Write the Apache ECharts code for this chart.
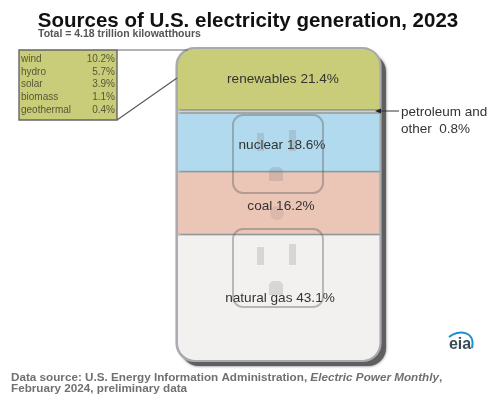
<!DOCTYPE html>
<html><head><meta charset="utf-8">
<style>html,body{margin:0;padding:0;background:#fff}#c{width:500px;height:394px;filter:blur(0.45px)}</style>
<script src="https://cdn.jsdelivr.net/npm/echarts@6/dist/echarts.min.js"></script>
</head><body><div id="c"></div>
<script>
// Stack order, bottom to top
const sources = ['natural gas', 'coal', 'nuclear', 'petroleum', 'renewables'];
// Percentages printed on the picture
const shares = [43.1, 16.2, 18.6, 0.8, 21.4];
// Band sizes as drawn in the picture (the artwork is not strictly to scale)
const bandSizes = [40.4, 20.1, 18.8, 0.9, 19.8];
const colors = ['#f2f1f0', '#ebc5b6', '#b1daee', '#d4d4d4', '#c9cd79'];

const insetNames = ['wind', 'hydro', 'solar', 'biomass', 'geothermal'];
const insetValues = ['10.2%', '5.7%', '3.9%', '1.1%', '0.4%'];

const titleText = 'Sources of U.S. electricity generation, 2023';
const subtitleText = 'Total = 4.18 trillion kilowatthours';

const chart = echarts.init(document.getElementById('c'), null, {renderer: 'canvas'});
const FF = '"Liberation Sans", Arial, sans-serif';
const labelOffsets = [[1, 0], [2, 3], [3, 3], [0, 0], [4, 0]];

const series = sources.map((s, i) => ({
  name: s, type: 'bar', stack: 'all', barWidth: '100%', z: 2, silent: true,
  data: [bandSizes[i]],
  itemStyle: {
    color: colors[i], borderColor: i === 3 ? '#a8a8a8' : '#8f9ea3', borderWidth: 0.8,
    borderRadius: i === 0 ? [0, 0, 18, 18] : i === 4 ? [18, 18, 0, 0] : 0
  },
  label: {
    show: i !== 3, position: 'inside', offset: labelOffsets[i],
    formatter: s + ' ' + shares[i].toFixed(1) + '%',
    fontFamily: FF, fontSize: 13.6, color: '#333'
  }
}));

function socket(y) {
  const st = {fill: 'rgba(120,120,120,0.22)'};
  return [
    {type: 'rect', z: 3, silent: true, shape: {x: 233, y: y, width: 90, height: 78, r: 10},
      style: {fill: 'none', stroke: 'rgba(90,90,90,0.38)', lineWidth: 2}},
    {type: 'rect', z: 3, silent: true, shape: {x: 257, y: y + 18, width: 7, height: 18}, style: st},
    {type: 'rect', z: 3, silent: true, shape: {x: 289, y: y + 15, width: 7, height: 21}, style: st},
    {type: 'rect', z: 3, silent: true, shape: {x: 269, y: y + 52, width: 14, height: 14, r: [5, 5, 0, 0]}, style: st}
  ];
}

const graphics = [
  // plug body shadow
  {type: 'rect', z: 1, silent: true, shape: {x: 181, y: 54, width: 205, height: 312, r: 18},
    style: {fill: '#5f5f5f', shadowBlur: 3, shadowColor: 'rgba(0,0,0,0.6)'}},
  ...socket(115), ...socket(229),
  {type: 'circle', z: 3, silent: true, shape: {cx: 277, cy: 213, r: 7}, style: {fill: 'rgba(120,120,120,0.15)'}},
  // plug body outline
  {type: 'rect', z: 4, silent: true, shape: {x: 176.5, y: 48, width: 204, height: 313, r: 18},
    style: {fill: 'none', stroke: '#a9a9b0', lineWidth: 2.2}},
  // inset
  {type: 'rect', z: 5, silent: true, shape: {x: 19, y: 50, width: 98, height: 70},
    style: {fill: '#c9cd79', stroke: '#666', lineWidth: 1.4}},
  {type: 'line', z: 5, silent: true, shape: {x1: 117, y1: 50, x2: 188, y2: 50}, style: {stroke: '#666', lineWidth: 1.2}},
  {type: 'line', z: 5, silent: true, shape: {x1: 117, y1: 120, x2: 177, y2: 78}, style: {stroke: '#555', lineWidth: 1.1}},
  ...insetNames.flatMap((n, i) => [
    {type: 'text', z: 6, silent: true, x: 21, y: 59 + i * 12.8,
      style: {text: n, fontFamily: FF, fontSize: 10, fill: '#55583a', textVerticalAlign: 'middle'}},
    {type: 'text', z: 6, silent: true, x: 115, y: 59 + i * 12.8,
      style: {text: insetValues[i], fontFamily: FF, fontSize: 10, fill: '#55583a', textAlign: 'right', textVerticalAlign: 'middle'}}
  ]),
  // petroleum callout
  {type: 'line', z: 5, silent: true, shape: {x1: 399, y1: 111, x2: 378, y2: 111}, style: {stroke: '#333', lineWidth: 1}},
  {type: 'polygon', z: 5, silent: true, shape: {points: [[375, 111], [381, 108.5], [381, 113.5]]}, style: {fill: '#222'}},
  {type: 'text', z: 6, silent: true, x: 401, y: 112,
    style: {text: 'petroleum and', fontFamily: FF, fontSize: 13.5, fill: '#333', textVerticalAlign: 'middle'}},
  {type: 'text', z: 6, silent: true, x: 401, y: 129,
    style: {text: 'other  ' + shares[3].toFixed(1) + '%', fontFamily: FF, fontSize: 13.5, fill: '#333', textVerticalAlign: 'middle'}},
  // source note
  {type: 'text', z: 6, silent: true, x: 11, y: 378,
    style: {
      text: '{b|Data source: U.S. Energy Information Administration, }{i|Electric Power Monthly}{b|,}',
      rich: {
        b: {fontFamily: FF, fontSize: 11.7, fontWeight: 'bold', fill: '#707070', color: '#707070'},
        i: {fontFamily: FF, fontSize: 11.7, fontWeight: 'bold', fontStyle: 'italic', fill: '#707070', color: '#707070'}
      },
      textVerticalAlign: 'middle'
    }},
  {type: 'text', z: 6, silent: true, x: 11, y: 388.5,
    style: {text: 'February 2024, preliminary data', fontFamily: FF, fontSize: 11.7, fontWeight: 'bold', fill: '#707070', textVerticalAlign: 'middle'}},
  // eia logo
  {type: 'text', z: 6, silent: true, x: 460, y: 345,
    style: {text: 'eia', fontFamily: FF, fontSize: 16, fontWeight: 'bold', fill: '#3a4a55', textAlign: 'center', textVerticalAlign: 'middle'}},
  {type: 'bezierCurve', z: 6, silent: true,
    shape: {x1: 449, y1: 337, x2: 472, y2: 348, cpx1: 458, cpy1: 329, cpx2: 476, cpy2: 331},
    style: {fill: 'none', stroke: '#1b8fd0', lineWidth: 2}}
];

chart.setOption({
  animation: false,
  backgroundColor: '#fff',
  title: [
    {text: titleText, left: 243, textAlign: 'center', top: 6,
      textStyle: {fontFamily: FF, fontSize: 20.5, fontWeight: 'bold', color: '#111'}},
    {text: subtitleText, left: 33, top: 24,
      textStyle: {fontFamily: FF, fontSize: 10.5, fontWeight: 'bold', color: '#555'}}
  ],
  grid: {left: 177, top: 48, width: 204, height: 313},
  xAxis: {type: 'category', data: ['share'], show: false},
  yAxis: {type: 'value', min: 0, max: bandSizes.reduce((a, b) => a + b, 0), show: false},
  series: series,
  graphic: graphics
});
</script></body></html>
